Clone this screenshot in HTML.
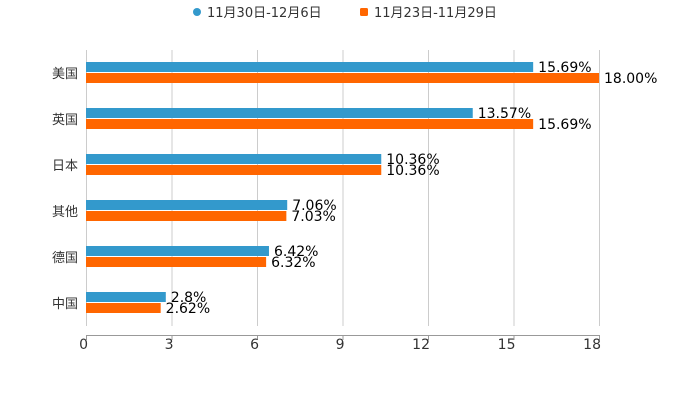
<!DOCTYPE html>
<html><head><meta charset="utf-8"><style>
body{margin:0;background:#fff;}
svg{display:block;font-family:"DejaVu Sans","Noto Sans CJK SC",sans-serif;}
</style></head><body>
<svg id="c" width="700" height="400">
<g>
<circle cx="197" cy="12" r="4" fill="#3399CC"/>
<text x="207" y="17" font-size="13" fill="#333">11月30日-12月6日</text>
<rect x="360" y="8" width="8" height="8" rx="1.5" fill="#FF6600"/>
<text x="374" y="17" font-size="13" fill="#333">11月23日-11月29日</text>
</g>
<g id="grid"></g>
<g id="bars"></g>
<g id="axes"></g>
</svg>
<script>
const categories=["美国","英国","日本","其他","德国","中国"];
const seriesA=[15.69,13.57,10.36,7.06,6.42,2.8];
const seriesB=[18.00,15.69,10.36,7.03,6.32,2.62];
const labelsA=["15.69%","13.57%","10.36%","7.06%","6.42%","2.8%"];
const labelsB=["18.00%","15.69%","10.36%","7.03%","6.32%","2.62%"];
const ticks=[0,3,6,9,12,15,18];
const NS="http://www.w3.org/2000/svg";
const x0=86,x1=599,xmax=18,plotTop=50,bandH=46,plotBottom=326;
const xs=v=>x0+(x1-x0)*v/xmax;
function mk(tag,attrs,parent){const e=document.createElementNS(NS,tag);for(const k in attrs)e.setAttribute(k,attrs[k]);parent.appendChild(e);return e;}
const grid=document.getElementById('grid'),bars=document.getElementById('bars'),axes=document.getElementById('axes');
ticks.forEach((t,i)=>{
 const l=mk('line',{x1:xs(t)+.5,x2:xs(t)+.5,y1:plotTop,y2:plotBottom,stroke:'#ccc','stroke-width':1},grid);
 
 
 const tk=mk('line',{x1:xs(t)+.5,x2:xs(t)+.5,y1:335,y2:340,stroke:'#999'},axes);
 
 
 const tx=mk('text',{x:xs(t)+2,y:349,'text-anchor':'end','font-size':14,fill:'#333'},axes);
 tx.textContent=t;
 
 
});
const ax=mk('line',{x1:x0,x2:x1+1,y1:335.5,y2:335.5,stroke:'#999'},axes);


categories.forEach((c,i)=>{
 const yc=plotTop+bandH*i+23;
 const cl=mk('text',{x:78,y:yc+5,'text-anchor':'end','font-size':13,fill:'#333'},axes);
 cl.textContent=c;
 
 
 const a=mk('rect',{x:x0,y:yc-11,width:xs(seriesA[i])-x0,height:10,fill:'#3399CC'},bars);
 
 
 const b=mk('rect',{x:x0,y:yc,width:xs(seriesB[i])-x0,height:10,fill:'#FF6600'},bars);
 
 
 const la=mk('text',{x:xs(seriesA[i])+5,y:yc-1,'font-size':14,fill:'#000'},bars);
 la.textContent=labelsA[i];
 
 
 const lb=mk('text',{x:xs(seriesB[i])+5,y:yc+10,'font-size':14,fill:'#000'},bars);
 lb.textContent=labelsB[i];
 
 
});
</script>
</body></html>
